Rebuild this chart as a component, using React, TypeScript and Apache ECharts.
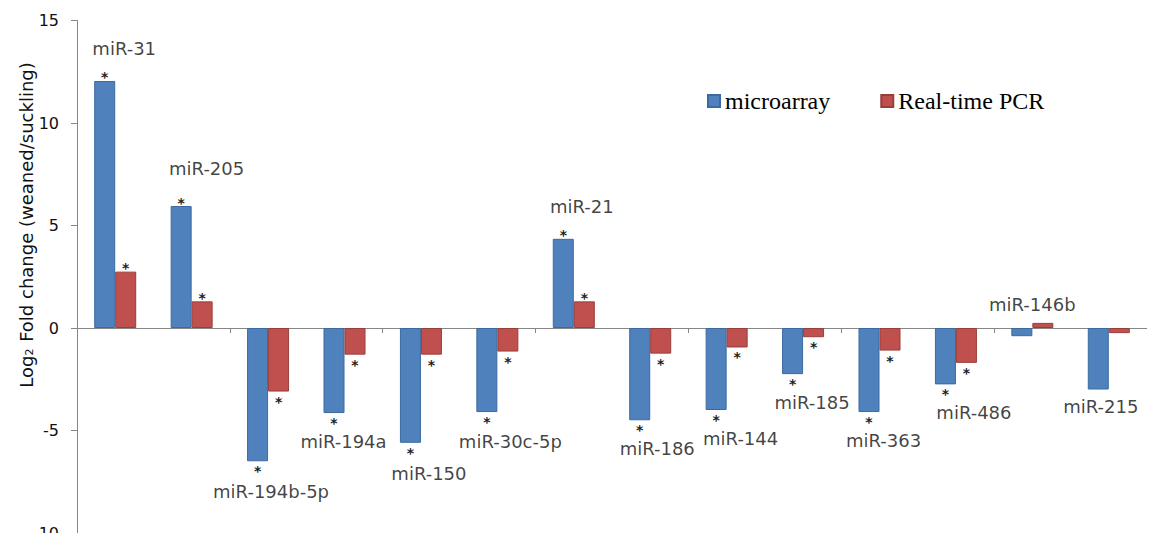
import React, { useEffect, useRef } from "react";
import * as echarts from "echarts";

const categories = [
  "miR-31", "miR-205", "miR-194b-5p", "miR-194a", "miR-150", "miR-30c-5p", "miR-21",
  "miR-186", "miR-144", "miR-185", "miR-363", "miR-486", "miR-146b", "miR-215",
];
const microarray = [12.05, 5.95, -6.5, -4.15, -5.6, -4.1, 4.35, -4.5, -4.0, -2.25, -4.1, -2.75, -0.4, -3.0];
const realTimePCR = [2.75, 1.3, -3.1, -1.3, -1.3, -1.15, 1.3, -1.25, -0.95, -0.45, -1.1, -1.7, 0.25, -0.25];
const significant = [true, true, true, true, true, true, true, true, true, true, true, true, false, false];
const seriesNames = ["microarray", "Real-time PCR"];
const yTicks = { min: -10, max: 15, interval: 5 };
const yTitle = "Log{s|2} Fold change (weaned/suckling)";

// label offsets (px) of the category names relative to the microarray bar end
const nameOffsets: [number, number][] = [
  [9, -32], [15, -38], [3, 30], [-1, 28], [8, 31], [13, 29], [8, -32],
  [7, 28], [14, 28], [9, 28], [4, 28], [18, 28], [0, -32], [-8, 17],
];

const SANS = "DejaVu Sans";

export default function App() {
  const ref = useRef<HTMLDivElement>(null);
  useEffect(() => {
    if (!ref.current) return;
    const chart = echarts.init(ref.current, null, { renderer: "svg" });

    const starLabel = {
      show: true,
      fontFamily: SANS,
      fontSize: 14,
      lineHeight: 8,
      fontWeight: "bold",
      color: "#222",
      formatter: (p: any) => (significant[p.dataIndex] ? "*" : ""),
    };
    const barData = (vals: number[]) =>
      vals.map((v) => ({
        value: v,
        label: v >= 0 ? { position: "top", distance: -0.5 } : { position: "bottom", distance: 6 },
      }));

    chart.setOption({
      animation: false,
      grid: { left: 77, right: 8, top: 20.5, bottom: 8, containLabel: false },
      legend: {
        data: seriesNames,
        left: 707,
        top: 89,
        padding: 0,
        itemWidth: 12,
        itemHeight: 12,
        itemGap: 50,
        icon: "rect",
        textStyle: { fontFamily: "Liberation Serif", fontSize: 24, color: "#000" },
      },
      xAxis: {
        type: "category",
        data: categories,
        axisLine: { onZero: true, lineStyle: { color: "#868686", width: 1 } },
        axisTick: { show: true, alignWithLabel: false, length: 5, lineStyle: { color: "#868686" } },
        axisLabel: { show: false },
        splitLine: { show: false },
      },
      yAxis: {
        type: "value",
        min: yTicks.min,
        max: yTicks.max,
        interval: yTicks.interval,
        axisLine: { show: true, lineStyle: { color: "#868686", width: 1 } },
        axisTick: { show: true, length: 6, lineStyle: { color: "#868686" } },
        axisLabel: { fontFamily: SANS, fontSize: 16, lineHeight: 14, color: "#111", margin: 18 },
        splitLine: { show: false },
      },
      series: [
        {
          name: seriesNames[0],
          type: "bar",
          data: barData(microarray),
          barWidth: 21,
          barGap: "0%",
          itemStyle: { color: "#4F81BD", borderColor: "#3B6AA0", borderWidth: 1 },
          label: starLabel,
        },
        {
          name: seriesNames[1],
          type: "bar",
          data: barData(realTimePCR),
          barWidth: 21,
          barGap: "0%",
          itemStyle: { color: "#C0504D", borderColor: "#983E3B", borderWidth: 1 },
          label: starLabel,
        },
        {
          type: "scatter",
          silent: true,
          symbolSize: 0,
          data: categories.map((c, i) => ({
            value: [c, microarray[i]],
            label: { offset: nameOffsets[i] },
          })),
          label: {
            show: true,
            position: "inside",
            fontFamily: SANS,
            fontSize: 18,
            lineHeight: 16,
            color: "#111",
            formatter: (p: any) => categories[p.dataIndex],
          },
          z: 5,
        },
      ],
      graphic: [
        {
          type: "text",
          x: 26,
          y: 225,
          rotation: Math.PI / 2,
          style: {
            text: yTitle,
            fontFamily: SANS,
            fontSize: 18,
            fill: "#111",
            align: "center",
            verticalAlign: "middle",
            rich: {
              s: { fontSize: 11, fontFamily: SANS, fill: "#111", verticalAlign: "bottom", lineHeight: 14, padding: [8, 1, 0, 0] },
            },
          },
        },
      ],
    });
    return () => chart.dispose();
  }, []);
  return <div ref={ref} style={{ width: 1155, height: 541, margin: -8 }} />;
}
